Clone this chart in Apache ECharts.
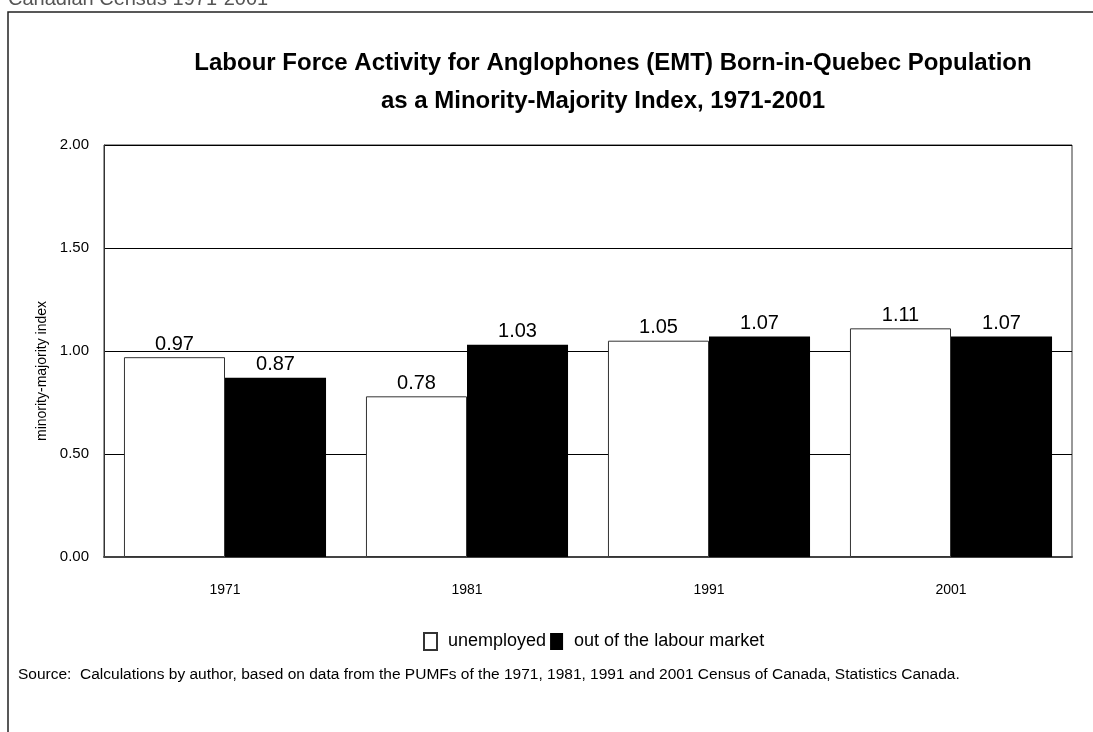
<!DOCTYPE html>
<html>
<head>
<meta charset="utf-8">
<script src="https://cdn.jsdelivr.net/npm/echarts@6/dist/echarts.min.js"></script>
<style>
  html, body { margin: 0; padding: 0; background: #fff; }
  #chart { width: 1093px; height: 732px; }
</style>
</head>
<body>
<div id="chart"></div>
<script>
  // data
  var years = ['1971', '1981', '1991', '2001']
  var unemployed = [0.97, 0.78, 1.05, 1.11]
  var outOfMarket = [0.87, 1.03, 1.07, 1.07]
  var seriesNames = ['unemployed', 'out of the labour market']

  var font = '"Liberation Sans", Arial, sans-serif'

  var chart = echarts.init(document.getElementById('chart'))

  var barLabel = {
    show: true,
    position: 'top',
    distance: 3,
    color: '#000',
    fontFamily: font,
    fontSize: 20,
    formatter: function (p) { return p.value.toFixed(2) }
  }

  var option = {
    backgroundColor: '#fff',
    animation: false,
    title: [{
      text: 'Labour Force Activity for Anglophones (EMT) Born-in-Quebec Population',
      left: 608,
      top: 46,
      textAlign: 'center',
      textStyle: { fontFamily: font, fontWeight: 'bold', fontSize: 24, color: '#000' }
    }, {
      text: 'as a Minority-Majority Index, 1971-2001',
      left: 598,
      top: 84,
      textAlign: 'center',
      textStyle: { fontFamily: font, fontWeight: 'bold', fontSize: 24, color: '#000' }
    }],
    grid: {
      left: 104,
      top: 145,
      width: 968,
      height: 412,
      show: true,
      borderColor: '#333',
      borderWidth: 1,
      backgroundColor: '#fff'
    },
    legend: {
      data: seriesNames,
      left: 418,
      top: 627,
      icon: 'rect',
      itemWidth: 13,
      itemHeight: 17,
      itemGap: 4,
      textStyle: { fontFamily: font, fontSize: 18, color: '#000', padding: [0, 0, 0, 6] }
    },
    xAxis: {
      type: 'category',
      data: years,
      axisLine: { lineStyle: { color: '#444', width: 2 } },
      axisTick: { show: false },
      axisLabel: { fontFamily: font, fontSize: 14, color: '#000', margin: 26 }
    },
    yAxis: {
      type: 'value',
      min: 0,
      max: 2,
      interval: 0.5,
      name: 'minority-majority index',
      nameLocation: 'middle',
      nameGap: 53,
      nameTextStyle: { fontFamily: font, fontSize: 14, color: '#000', padding: [0, 40, 0, 0] },
      axisLine: { show: true, lineStyle: { color: '#333' } },
      axisTick: { show: false },
      splitLine: { lineStyle: { color: '#000', width: 1 } },
      axisLabel: {
        fontFamily: font, fontSize: 15, color: '#000', margin: 15,
        formatter: function (v) { return v.toFixed(2) }
      }
    },
    series: [{
      name: seriesNames[0],
      type: 'bar',
      data: unemployed,
      barGap: '0%',
      barCategoryGap: '16.5%',
      itemStyle: { color: '#fff', borderColor: '#333', borderWidth: 1 },
      label: barLabel
    }, {
      name: seriesNames[1],
      type: 'bar',
      data: outOfMarket,
      itemStyle: { color: '#000', borderColor: '#000', borderWidth: 0 },
      label: barLabel
    }],
    graphic: [{
      type: 'rect',
      shape: { x: 8, y: 12, width: 1200, height: 900 },
      style: { fill: null, stroke: '#222', lineWidth: 1.5 },
      silent: true
    }, {
      type: 'text',
      x: 8,
      y: 9,
      style: {
        text: 'Canadian Census 1971-2001',
        fill: '#555',
        font: '20px ' + font,
        verticalAlign: 'bottom'
      }
    }, {
      type: 'text',
      left: 18,
      top: 667,
      style: {
        text: 'Source:  Calculations by author, based on data from the PUMFs of the 1971, 1981, 1991 and 2001 Census of Canada, Statistics Canada.',
        fill: '#000',
        font: '15.5px ' + font
      }
    }]
  }

  chart.setOption(option)
</script>
</body>
</html>
